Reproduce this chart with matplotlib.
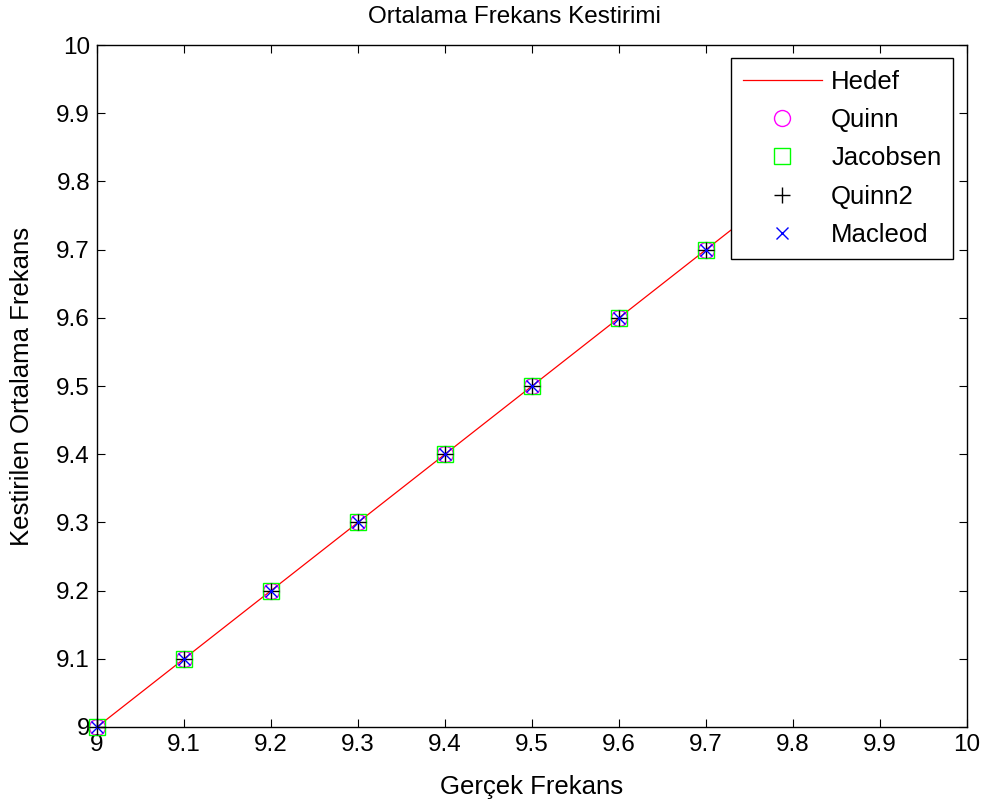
import matplotlib
matplotlib.use("Agg")
import matplotlib.pyplot as plt
import numpy as np

plt.rcParams['font.family'] = ['Liberation Sans', 'DejaVu Sans']

true_freq = [9.0, 9.1, 9.2, 9.3, 9.4, 9.5, 9.6, 9.7, 9.8]
target = [9.0, 9.1, 9.2, 9.3, 9.4, 9.5, 9.6, 9.7, 9.8]
quinn = [9.0, 9.1, 9.2, 9.3, 9.4, 9.5, 9.6, 9.7, 9.8]
jacobsen = [9.0, 9.1, 9.2, 9.3, 9.4, 9.5, 9.6, 9.7, 9.8]
quinn2 = [9.0, 9.1, 9.2, 9.3, 9.4, 9.5, 9.6, 9.7, 9.8]
macleod = [9.0, 9.1, 9.2, 9.3, 9.4, 9.5, 9.6, 9.7, 9.8]
ticks = [9.0, 9.1, 9.2, 9.3, 9.4, 9.5, 9.6, 9.7, 9.8, 9.9, 10.0]
tick_labels = ['9', '9.1', '9.2', '9.3', '9.4', '9.5', '9.6', '9.7', '9.8', '9.9', '10']

fig = plt.figure(figsize=(9.87, 8.05), dpi=100)
ax = fig.add_axes([0.0983, 0.0969, 0.8814, 0.8471])

ax.plot(true_freq, target, color='red', lw=0.9, label='Hedef')
ax.plot(true_freq, quinn, ls='none', marker='o', ms=11.5, mfc='none', mec='magenta', mew=1.0,
        label='Quinn', clip_on=False)
ax.plot(true_freq, jacobsen, ls='none', marker='s', ms=11.5, mfc='none', mec='#00ff00', mew=1.0,
        label='Jacobsen', clip_on=False)
ax.plot(true_freq, quinn2, ls='none', marker='+', ms=12, color='black', mew=1.0,
        label='Quinn2', clip_on=False)
ax.plot(true_freq, macleod, ls='none', marker='x', ms=8, color='blue', mew=1.0,
        label='Macleod', clip_on=False)

ax.set_xlim(9, 10)
ax.set_ylim(9, 10)
ax.set_xticks(ticks)
ax.set_xticklabels(tick_labels)
ax.set_yticks(ticks)
ax.set_yticklabels(tick_labels)
ax.tick_params(direction='in', top=True, right=True, labelsize=17.5, length=6, width=0.8, pad=5)
for s in ax.spines.values():
    s.set_linewidth(1.0)

ax.set_title('Ortalama Frekans Kestirimi', fontsize=17.5, pad=16, x=0.48)
ax.set_xlabel('Gerçek Frekans', fontsize=18.5, labelpad=14)
ax.set_ylabel('Kestirilen Ortalama Frekans', fontsize=18.5, labelpad=16)

leg = ax.legend(loc='upper right', bbox_to_anchor=(0.984, 0.981), fontsize=18.5,
                fancybox=False, edgecolor='black', framealpha=1, borderpad=0.45,
                handlelength=3.1, handletextpad=0.35, labelspacing=0.56, borderaxespad=0)
leg.get_frame().set_linewidth(1.0)
leg.set_zorder(10)

fig.savefig('out.png', dpi=100)
